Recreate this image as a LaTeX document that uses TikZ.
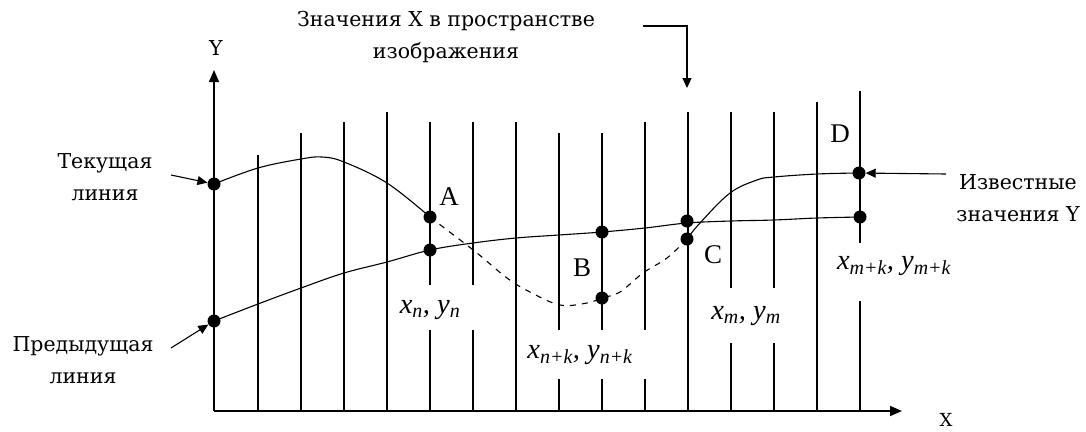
\documentclass[tikz,border=0pt]{standalone}
\usepackage{fontspec}
\setmainfont{DejaVu Serif}
\newfontfamily\tms{Liberation Serif}
\usetikzlibrary{arrows.meta}
\tikzset{
  axisline/.style={line width=1.6pt,-{Triangle[length=12pt,width=10pt]}},
  vline/.style={line width=1.6pt},
  curve/.style={line width=1.1pt},
  dashcurve/.style={line width=1.1pt,dash pattern=on 6pt off 6pt},
  dot/.style={circle,fill=black,inner sep=0pt,minimum size=13pt},
  lab/.style={font=\fontsize{20.5}{32}\selectfont,align=center,inner sep=0pt},
  onelab/.style={font=\fontsize{20.5}{32}\selectfont,inner sep=0pt},
  mlab/.style={font=\tms\itshape\fontsize{28.5}{30}\selectfont,inner sep=0pt},
  letter/.style={font=\tms\fontsize{27}{27}\selectfont,inner sep=0pt},
  ptr/.style={line width=1.1pt,-{Triangle[length=10pt,width=9pt]}}
}
\begin{document}
\begin{tikzpicture}[x=1pt,y=-1pt]
\useasboundingbox (0,0) rectangle (1086,431);
% vertical grid lines: x / top / gap start / gap end
\foreach \x/\t/\ga/\gb in {258/155/411/411,301/133/411/411,344/122/411/411,387/112/411/411,
  430/122/285/330,473/122/285/330,516/122/411/411,559/133/330/379,602/133/330/379,
  645/122/330/379,688/112/411/411,731/112/288/343,774/112/288/343,817/102/411/411,860/91/243/301}{
  \draw[vline] (\x,\t) -- (\x,\ga);
  \draw[vline] (\x,\gb) -- (\x,411);
}
% axes
\coordinate (O) at (214,411);
\coordinate (ytip) at (214,70);
\coordinate (xtip) at (902,411);
\draw[axisline] (O) -- (ytip);
\draw[axisline] (O) -- (xtip);
\node[onelab,anchor=base] (ylab) at (216,55) {Y};
\node[onelab,anchor=base,font=\fontsize{18}{20}\selectfont] (xlab) at (946,426) {X};
% dots
\node[dot] (c0) at (214,184) {};
\node[dot] (p0) at (214,321) {};
\node[dot] (A1) at (430,217) {};
\node[dot] (A2) at (430,250) {};
\node[dot] (B1) at (602,232) {};
\node[dot] (B2) at (602,298) {};
\node[dot] (C1) at (687,221) {};
\node[dot] (C2) at (687,239) {};
\node[dot] (D1) at (859,173) {};
\node[dot] (D2) at (860,217) {};
% previous line
\draw[curve] plot[smooth,tension=0.6] coordinates {(214,321) (258,304) (301,288) (344,273) (387,262) (430,250) (473,243) (516,238) (559,235) (602,232) (645,228) (687,223) (731,221) (774,220) (817,218) (860,217)};
% current line
\draw[curve] plot[smooth,tension=0.6] coordinates {(214,184) (258,168) (301,159) (322,157) (344,162) (387,183) (430,217)};
\draw[dashcurve] plot[smooth,tension=0.6] coordinates {(430,217) (447,230) (477,253) (507,278) (530,292) (560,305) (587,303) (602,298) (620,292) (643,273) (667,258) (687,239)};
\draw[curve] plot[smooth,tension=0.6] coordinates {(687,239) (700,223) (730,193) (757,180) (774,177) (817,174) (859,173)};
% letters
\node[letter] (LA) at (449,197) {A};
\node[letter] (LB) at (582,268) {B};
\node[letter] (LC) at (713,255) {C};
\node[letter] (LD) at (840,134) {D};
% coordinate labels
\node[mlab] (xn) at (430,310) {x\textsubscript{n}, y\textsubscript{n}};
\node[mlab] (xnk) at (580,355) {x\textsubscript{n+k}, y\textsubscript{n+k}};
\node[mlab] (xm) at (746,316) {x\textsubscript{m}, y\textsubscript{m}};
\node[mlab] (xmk) at (894,266) {x\textsubscript{m+k}, y\textsubscript{m+k}};
% side labels
\node[lab] (cur) at (105,177) {Текущая\\линия};
\node[lab] (prev) at (83,360) {Предыдущая\\линия};
\node[lab] (known) at (1018,198) {Известные\\значения Y};
\node[lab] (top) at (446,37) {Значения X в пространстве\\изображения};
% pointers
\coordinate (curS) at (171,175);
\coordinate (prevS) at (171,348);
\coordinate (knownS) at (946,174);
\coordinate (topS) at (643,26);
\coordinate (topT) at (687,88);
\draw[ptr] (curS) -- (c0);
\draw[ptr] (prevS) -- (p0);
\draw[ptr] (knownS) -- (D1);
\draw[ptr] (topS) -| (topT);
\end{tikzpicture}
\end{document}
